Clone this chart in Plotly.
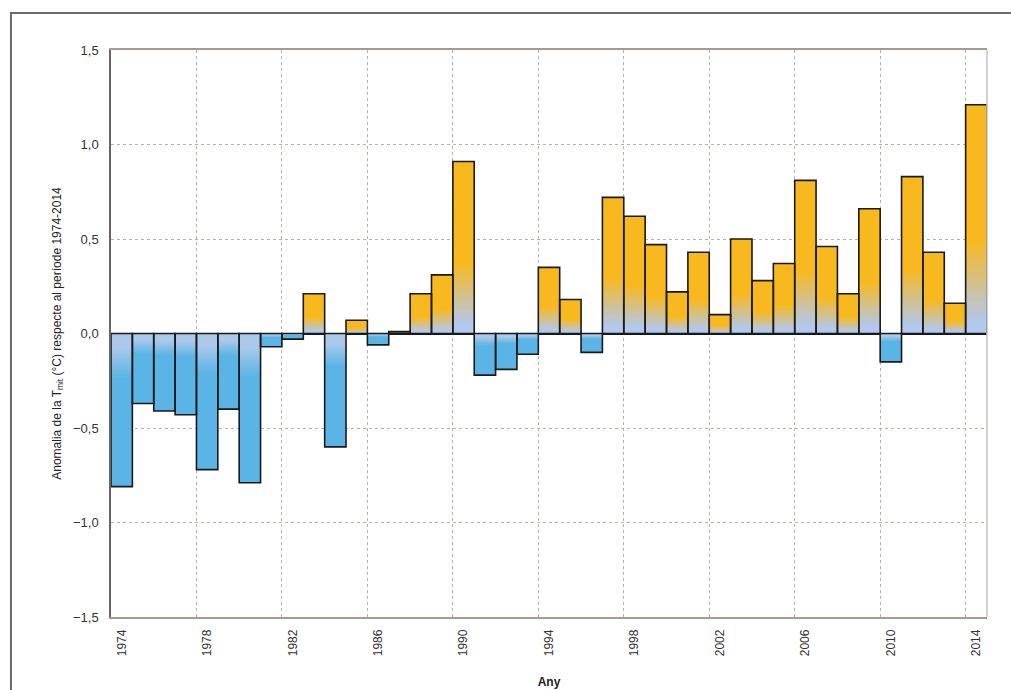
import plotly.graph_objects as go

years = list(range(1974, 2015))
anomaly = [-0.81, -0.37, -0.41, -0.43, -0.72, -0.40, -0.79, -0.07, -0.03, 0.21,
           -0.60, 0.07, -0.06, 0.01, 0.21, 0.31, 0.91, -0.22, -0.19, -0.11,
           0.35, 0.18, -0.10, 0.72, 0.62, 0.47, 0.22, 0.43, 0.10, 0.50,
           0.28, 0.37, 0.81, 0.46, 0.21, 0.66, -0.15, 0.83, 0.43, 0.16, 1.21]
x_ticks = list(range(1974, 2015, 4))
y_ticks = [-1.5, -1.0, -0.5, 0.0, 0.5, 1.0, 1.5]

ORANGE = (248, 185, 30)
PALE = (178, 200, 238)
BLUE_DARK = (90, 180, 229)
BLUE_LIGHT = (170, 201, 235)


def mix(a, b, t):
    t = max(0.0, min(1.0, t))
    return "rgb(%d,%d,%d)" % tuple(round(a[i] + (b[i] - a[i]) * t) for i in range(3))


fig = go.Figure()
W = 1.0

# positive bars: orange body, gradient to pale blue near base
pos = [v if v > 0 else 0 for v in anomaly]
fig.add_trace(go.Bar(x=years, y=pos, width=W, marker=dict(color=mix(ORANGE, ORANGE, 0), line=dict(width=0)),
                     hoverinfo="skip"))
f_hi, f_lo, n = 0.42, 0.06, 18
for k in range(n + 1):
    f = f_hi - (f_hi - f_lo) * k / n
    t = (f - f_lo) / (f_hi - f_lo)
    fig.add_trace(go.Bar(x=years, y=[p * f for p in pos], width=W,
                         marker=dict(color=mix(PALE, ORANGE, t), line=dict(width=0)),
                         hoverinfo="skip"))

# negative bars: medium blue body, lighter toward zero
neg = [v if v < 0 else 0 for v in anomaly]
fig.add_trace(go.Bar(x=years, y=neg, width=W, marker=dict(color=mix(BLUE_DARK, BLUE_DARK, 0), line=dict(width=0)),
                     hoverinfo="skip"))
g_hi, g_lo, m = 0.30, 0.10, 12
for k in range(m + 1):
    g = g_hi - (g_hi - g_lo) * k / m
    fig.add_trace(go.Bar(x=years, y=[v * g for v in neg], width=W,
                         marker=dict(color=mix(BLUE_DARK, BLUE_LIGHT, k / m), line=dict(width=0)),
                         hoverinfo="skip"))

# outlines
fig.add_trace(go.Bar(x=years, y=anomaly, width=W,
                     marker=dict(color="rgba(0,0,0,0)", line=dict(width=1.6, color="#1a1a1a")),
                     hoverinfo="skip"))

grid_col = "#bfb0a6"
fig.update_layout(
    barmode="overlay",
    showlegend=False,
    width=1011, height=690,
    margin=dict(l=111, r=24, t=50, b=73, autoexpand=False),
    paper_bgcolor="white", plot_bgcolor="white",
    separators=",.",
    font=dict(family="Liberation Sans, Arial, sans-serif", color="#222222"),
    xaxis=dict(
        range=[1973.5, 2014.5],
        tickvals=x_ticks, ticktext=[str(y) for y in x_ticks],
        tickangle=-90, tickfont=dict(size=12, color="#333"),
        ticks="outside", ticklen=6, tickcolor="rgba(0,0,0,0)",
        showgrid=False, zeroline=False,
        showline=True, linecolor="#a89a90", linewidth=1.5, mirror=True,
        minor=dict(tick0=1973.5, dtick=4, showgrid=True, gridcolor=grid_col,
                   griddash="dot", gridwidth=1, ticks=""),
        title=dict(text="<b>Any</b>", font=dict(size=12, color="#222"), standoff=22),
    ),
    yaxis=dict(
        range=[-1.5, 1.5],
        tickvals=y_ticks, tickformat=".1f",
        tickfont=dict(size=13, color="#333"),
        ticks="outside", ticklen=8, tickcolor="rgba(0,0,0,0)",
        showgrid=True, gridcolor=grid_col, griddash="dot", gridwidth=1,
        zeroline=True, zerolinecolor="#1a1a1a", zerolinewidth=1.6,
        showline=True, linecolor="#666", linewidth=1.5,
        title=dict(text="Anomalia de la T<sub>mit</sub> (°C) respecte al període 1974-2014",
                   font=dict(size=12, color="#222"), standoff=9),
    ),
)

# light right frame edge and outer border
fig.add_shape(type="line", xref="paper", yref="paper", x0=1, x1=1, y0=0, y1=1,
              line=dict(color="#c8c0bc", width=1.5))
fig.add_shape(type="rect", xref="paper", yref="paper",
              x0=-0.1142, x1=1.04, y0=-0.15, y1=1.0653,
              line=dict(color="#6a6a6a", width=2), fillcolor="rgba(0,0,0,0)", layer="above")

fig.write_html("out.html", config={"displayModeBar": False},
               post_script="document.body.style.margin='0';document.body.style.padding='0';")
